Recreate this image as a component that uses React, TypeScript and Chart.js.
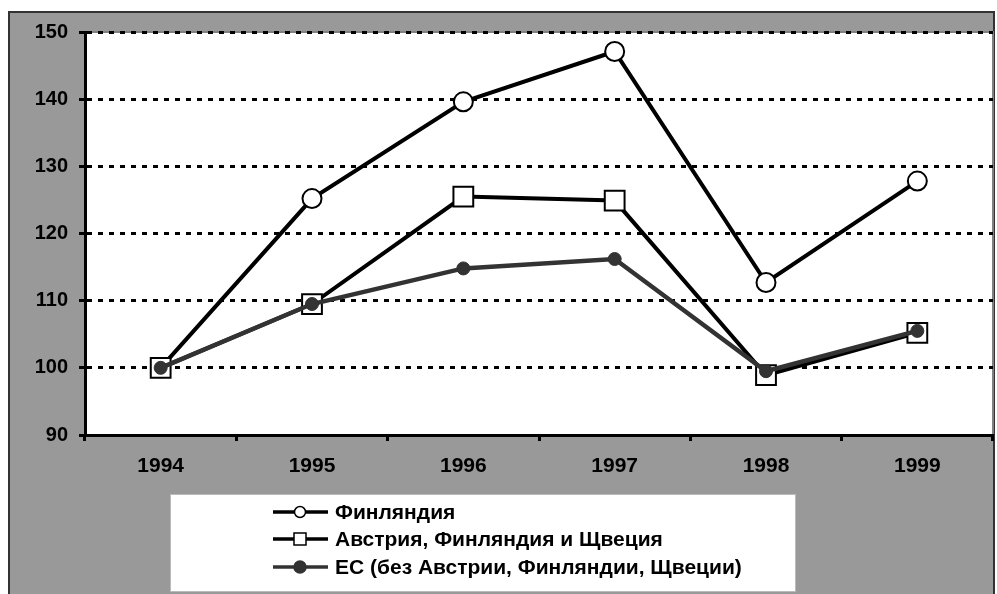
import React, { useEffect, useRef } from "react";
import { Chart, registerables } from "chart.js";

Chart.register(...registerables);

const years = ["1994", "1995", "1996", "1997", "1998", "1999"];
const finland = [100, 125.2, 139.6, 147.1, 112.7, 127.8];
const austriaFinlandSweden = [100, 109.5, 125.5, 124.9, 98.9, 105.2];
const euExcluding = [100, 109.5, 114.8, 116.2, 99.5, 105.5];
const seriesLabels = [
  "Финляндия",
  "Австрия, Финляндия и Щвеция",
  "ЕС (без Австрии, Финляндии, Щвеции)",
];
const yMin = 90;
const yMax = 150;
const yStep = 10;

const FONT = "'Liberation Sans', Arial, sans-serif";

const framePlugin = {
  id: "frame",
  beforeDraw(chart: any) {
    const { ctx, chartArea } = chart;
    ctx.save();
    ctx.fillStyle = "#ffffff";
    ctx.fillRect(0, 0, chart.width, chart.height);
    ctx.fillStyle = "#999999";
    ctx.fillRect(8, 11, 987, 600);
    ctx.strokeStyle = "#333333";
    ctx.lineWidth = 2;
    ctx.strokeRect(9, 12, 985, 600);
    ctx.fillStyle = "#ffffff";
    ctx.fillRect(chartArea.left, chartArea.top, chartArea.right - chartArea.left, chartArea.bottom - chartArea.top);
    ctx.strokeStyle = "#808080";
    ctx.lineWidth = 2;
    ctx.strokeRect(chartArea.left, chartArea.top, chartArea.right - chartArea.left, chartArea.bottom - chartArea.top);
    // legend box
    ctx.fillStyle = "#ffffff";
    ctx.fillRect(170, 494, 626, 98);
    ctx.strokeStyle = "#bbbbbb";
    ctx.lineWidth = 1;
    ctx.strokeRect(170.5, 494.5, 625, 97);
    ctx.restore();
  },
  afterDraw(chart: any) {
    const { ctx } = chart;
    const rows = [512, 539, 567];
    ctx.save();
    chart.data.datasets.forEach((ds: any, i: number) => {
      const y = rows[i];
      ctx.strokeStyle = ds.borderColor;
      ctx.lineWidth = 3.5;
      ctx.beginPath();
      ctx.moveTo(273, y);
      ctx.lineTo(328, y);
      ctx.stroke();
      ctx.lineWidth = 1.5;
      ctx.fillStyle = ds.pointBackgroundColor;
      ctx.strokeStyle = ds.pointBorderColor;
      if (ds.pointStyle === "rect") {
        ctx.fillRect(294, y - 6, 12, 12);
        ctx.strokeRect(294, y - 6, 12, 12);
      } else {
        const r = i === 0 ? 5.5 : 6;
        ctx.beginPath();
        ctx.arc(300, y, r, 0, Math.PI * 2);
        ctx.fill();
        ctx.stroke();
      }
      ctx.fillStyle = "#000000";
      ctx.font = `bold 21px ${FONT}`;
      ctx.textBaseline = "middle";
      ctx.textAlign = "left";
      ctx.fillText(ds.label, 335, y + 1);
    });
    ctx.restore();
  },
};

export default function App() {
  const ref = useRef<HTMLCanvasElement | null>(null);
  useEffect(() => {
    if (!ref.current) return;
    const chart = new Chart(ref.current, {
      type: "line",
      data: {
        labels: years,
        datasets: [
          {
            label: seriesLabels[0],
            data: finland,
            borderColor: "#000000",
            borderWidth: 4,
            pointStyle: "circle",
            pointRadius: 9.5,
            pointBackgroundColor: "#ffffff",
            pointBorderColor: "#000000",
            pointBorderWidth: 2,
            order: 2,
          },
          {
            label: seriesLabels[1],
            data: austriaFinlandSweden,
            borderColor: "#000000",
            borderWidth: 4,
            pointStyle: "rect",
            pointRadius: 14,
            pointBackgroundColor: "#ffffff",
            pointBorderColor: "#000000",
            pointBorderWidth: 2,
            order: 1,
          },
          {
            label: seriesLabels[2],
            data: euExcluding,
            borderColor: "#333333",
            borderWidth: 4.5,
            pointStyle: "circle",
            pointRadius: 6.5,
            pointBackgroundColor: "#333333",
            pointBorderColor: "#333333",
            pointBorderWidth: 1,
            order: 0,
          },
        ],
      },
      options: {
        responsive: false,
        animation: false,
        devicePixelRatio: 1,
        layout: { autoPadding: false, padding: { top: 32, right: 4, left: 0, bottom: 0 } },
        plugins: { legend: { display: false }, tooltip: { enabled: false } },
        scales: {
          x: {
            type: "category",
            offset: true,
            afterFit: (s: any) => {
              s.height = 159;
              s.paddingLeft = 0;
              s.paddingRight = 0;
            },
            grid: {
              offset: true,
              drawOnChartArea: false,
              drawTicks: true,
              tickLength: 6,
              tickWidth: 3,
              tickColor: "#000000",
            },
            border: { display: true, color: "#000000", width: 3 },
            ticks: {
              color: "#000000",
              font: { family: FONT, size: 21, weight: "bold" },
              padding: 13,
              maxRotation: 0,
              autoSkip: false,
            },
          },
          y: {
            min: yMin,
            max: yMax,
            afterFit: (s: any) => {
              s.width = 85;
              s.paddingTop = 0;
              s.paddingBottom = 0;
            },
            grid: {
              color: "#000000",
              lineWidth: 3,
              drawTicks: true,
              tickLength: 6,
              tickWidth: 3,
              tickColor: "#000000",
              tickBorderDash: [],
            },
            border: { display: true, color: "#000000", width: 3, dash: [5, 6] },
            ticks: {
              stepSize: yStep,
              color: "#000000",
              font: { family: FONT, size: 20, weight: "bold" },
              padding: 11,
            },
          },
        },
      },
      plugins: [framePlugin],
    } as any);
    return () => chart.destroy();
  }, []);
  return (
    <div style={{ position: "absolute", left: 0, top: 0, width: 997, height: 594 }}>
      <canvas ref={ref} width={997} height={594} style={{ display: "block" }} />
    </div>
  );
}
